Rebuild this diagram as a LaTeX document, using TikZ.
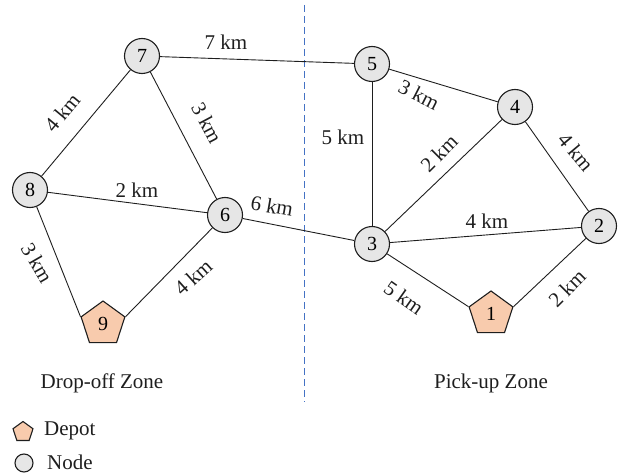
\documentclass[tikz,border=0pt]{standalone}
\usepackage{fontspec}
\setmainfont{Liberation Serif}
\usetikzlibrary{shapes.geometric}
\definecolor{nodegray}{RGB}{230,230,230}
\definecolor{depotfill}{RGB}{248,203,173}
\definecolor{zoneblue}{RGB}{68,114,196}
\definecolor{inkline}{RGB}{30,30,30}
\tikzset{
  vertex/.style={circle, draw=inkline, fill=nodegray, line width=1.1pt,
    minimum size=35pt, inner sep=0pt, font=\fontsize{20}{22}\selectfont},
  depot/.style={regular polygon, regular polygon sides=5, draw=inkline,
    fill=depotfill, line width=1.1pt, minimum size=46pt, inner sep=0pt,
    font=\fontsize{20}{22}\selectfont},
  road/.style={draw=inkline, line width=0.9pt},
  dist/.style={inner sep=0pt, text=inkline, font=\fontsize{21}{23}\selectfont},
  zone/.style={inner sep=0pt, text=inkline, font=\fontsize{21}{23}\selectfont},
  divider/.style={draw=zoneblue, line width=0.9pt, dash pattern=on 7pt off 4pt},
}
\begin{document}
\begin{tikzpicture}[x=1pt, y=-1pt]
  \useasboundingbox (0,0) rectangle (621,476);

  % zone divider
  \coordinate (divtop) at (304,5);
  \coordinate (divbot) at (304,402);
  \draw[divider] (divtop) -- (divbot);

  % vertices
  \node[vertex] (n7) at (142,56) {7};
  \node[vertex] (n5) at (372,64) {5};
  \node[vertex] (n4) at (515,107) {4};
  \node[vertex] (n2) at (599,226) {2};
  \node[vertex] (n3) at (372,244) {3};
  \node[vertex] (n8) at (30,190) {8};
  \node[vertex] (n6) at (225,215) {6};
  \node[depot] (n1) at (491,314) {1};
  \node[depot] (n9) at (103,324) {9};

  % roads
  \draw[road] (n7) -- (n5);
  \draw[road] (n7) -- (n8);
  \draw[road] (n7) -- (n6);
  \draw[road] (n8) -- (n6);
  \draw[road] (n8) -- (n9.corner 2);
  \draw[road] (n6) -- (n9.corner 5);
  \draw[road] (n6) -- (n3);
  \draw[road] (n5) -- (n3);
  \draw[road] (n5) -- (n4);
  \draw[road] (n4) -- (n3);
  \draw[road] (n4) -- (n2);
  \draw[road] (n3) -- (n2);
  \draw[road] (n3) -- (n1.corner 2);
  \draw[road] (n2) -- (n1.corner 5);

  % distances
  \node[dist] (d75) at (226,42) {7 km};
  \node[dist, rotate=50] (d78) at (62,113) {4 km};
  \node[dist, rotate=-62] (d76) at (207,123) {3 km};
  \node[dist] (d86) at (137,190) {2 km};
  \node[dist, rotate=-10] (d63) at (272,206) {6 km};
  \node[dist] (d53) at (343,137) {5 km};
  \node[dist, rotate=-27] (d54) at (419,95) {3 km};
  \node[dist, rotate=45] (d43) at (439,153) {2 km};
  \node[dist, rotate=-50] (d42) at (576,152) {4 km};
  \node[dist] (d32) at (487,221) {4 km};
  \node[dist, rotate=-35] (d31) at (404,298) {5 km};
  \node[dist, rotate=45] (d12) at (567,288) {2 km};
  \node[dist, rotate=-60] (d89) at (37,263) {3 km};
  \node[dist, rotate=42] (d69) at (193,277) {4 km};

  % zone names
  \node[zone] (dropzone) at (102,383) {Drop-off Zone};
  \node[zone] (pickzone) at (491,383) {Pick-up Zone};

  % legend
  \node[depot, minimum size=21pt] (legdepot) at (23,432) {};
  \node[zone, anchor=west] (legdepottxt) at (44,431) {Depot};
  \node[vertex, minimum size=18pt] (legnode) at (24,463) {};
  \node[zone, anchor=west] (legnodetxt) at (47,462) {Node};
\end{tikzpicture}
\end{document}
